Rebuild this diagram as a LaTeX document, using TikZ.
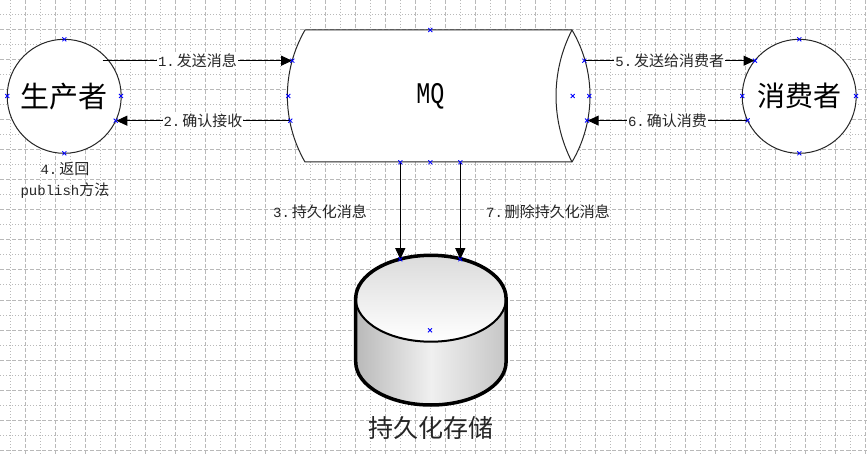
\documentclass[tikz,border=0pt]{standalone}
\usepackage{fontspec}
\usepackage{graphicx}
\setmainfont{Liberation Mono}
\newfontfamily\cjk{Noto Sans CJK SC}
\usetikzlibrary{arrows.meta}
\newcommand\zh[1]{{\cjk\fontsize{15}{20.7}\selectfont #1}}
\newcommand\nsp{\hspace{2pt}}
\begin{document}
\begin{tikzpicture}[x=1pt,y=-1pt,
 gmaj/.style={gray!55, line width=1pt, dash pattern=on 4pt off 2pt},
 gmin/.style={gray!55, line width=1pt, dash pattern=on 1pt off 2pt},
 outl/.style={draw=black!85, line width=1pt},
 conn/.style={draw=black, line width=1pt, -{Triangle[length=11pt,width=10pt]}},
 lbl/.style={fill=white, inner sep=1pt, text=black!85, font=\fontsize{14}{20.7}\selectfont},
 vlbl/.style={inner sep=1pt, text=black!85, font=\fontsize{14}{20.7}\selectfont, align=center},
 xm/.style={blue, line width=0.8pt},
 ell/.style={x radius=75.2pt, y radius=43.2pt}
]
\useasboundingbox (0,0) rectangle (867,454);
\fill[white] (0,0) rectangle (867,454);
% grid
\foreach \x in {10,40,...,850} \draw[gmin] (\x,0) -- (\x,454);
\foreach \y in {15,45,...,435} \draw[gmin] (0,\y) -- (867,\y);
\foreach \x in {25,55,...,865} \draw[gmaj] (\x,0) -- (\x,454);
\foreach \y in {0,30,...,450} \draw[gmaj] (0,\y) -- (867,\y);

% producer and consumer
\node[outl, fill=white, circle, minimum size=114pt, inner sep=0pt,
      font=\cjk\fontsize{29}{30}\selectfont] (prod) at (64.2,96.3) {生产者};
\node[outl, fill=white, circle, minimum size=114pt, inner sep=0pt,
      font=\cjk\fontsize{28}{30}\selectfont] (cons) at (799.2,96.3) {消费者};

% MQ horizontal cylinder
\draw[outl, fill=white] (305,30) -- (572,30)
   .. controls (596,70.8) and (596,121.2) .. (572,162) -- (305,162)
   .. controls (281.5,121.2) and (281.5,70.8) .. (305,30) -- cycle;
\draw[outl] (572,30) .. controls (550.7,71.3) and (550.7,120.7) .. (572,162);
\node (mq) at (430.3,96) {\fontsize{30}{30}\selectfont\scalebox{0.78}[1]{MQ}};

% storage cylinder
\path[left color=gray!55, right color=gray!45, middle color=gray!12]
   (355.7,298.5) -- (355.7,361.8) arc[start angle=180, end angle=360, ell]
   -- (506.1,298.5) -- cycle;
\path[top color=gray!28, bottom color=white] (430.9,298.5) ellipse[ell];
\draw[black, line width=2pt] (430.9,298.5) ellipse[ell];
\draw[black, line width=3.5pt] (355.7,298.5) -- (355.7,361.8)
   arc[start angle=180, end angle=360, ell] -- (506.1,298.5)
   arc[start angle=0, end angle=180, ell] -- cycle;
\node[text=black!85, font=\cjk\fontsize{25}{30}\selectfont] (store) at (430.5,428.3) {持久化存储};

% connection coordinates
\coordinate (a1s) at (102.7,60.7);
\coordinate (a1e) at (292.1,60.7);
\coordinate (a2s) at (289.6,120.7);
\coordinate (a5s) at (585.1,60.7);
\coordinate (a6e) at (587.7,120.5);
\coordinate (m3) at (400.3,162.3);
\coordinate (c3) at (400.3,259.2);
\coordinate (m7) at (460.3,162.3);
\coordinate (c7) at (460.3,259.2);

% connectors
\draw[conn] (a1s) -- node[lbl] (l1) {1.\nsp\zh{发送消息}} (a1e);
\draw[conn] (a2s) -- node[lbl] (l2) {2.\nsp\zh{确认接收}} (a2s -| prod.-25);
\draw[conn] (a5s) -- node[lbl] (l5) {5.\nsp\zh{发送给消费者}} (a5s -| cons.141);
\draw[conn] (cons.205) -- node[lbl] (l6) {6.\nsp\zh{确认消费}} (cons.205 -| a6e);
\draw[conn] (m3) -- (c3);
\draw[conn] (m7) -- (c7);
\node[vlbl] (l3) at (320,211.7) {3.\nsp\zh{持久化消息}};
\node[vlbl] (l7) at (548,211.7) {7.\nsp\zh{删除持久化消息}};
\node[vlbl] (l4) at (65,180.3) {4.\nsp\zh{返回}\\publish\zh{方法}};

% connection point marks
\foreach \x/\y in {64.3/39.3, 64.3/153.3, 7.3/96, 121/96, 115.7/120.7,
  430.3/30, 288.3/96, 292.3/60.7, 290.3/120.7, 400.3/162.3, 430.3/162.3, 460.3/162.3,
  572.7/96, 589.3/96, 584.3/60.7, 587/120.5,
  799.3/39.3, 799.3/153.3, 742.3/96, 856/96, 755/60.7, 747.7/120.3,
  400.3/259.3, 460.3/259.3, 430/330.3}
  \draw[xm] (\x-2,\y-2) -- (\x+2,\y+2) (\x-2,\y+2) -- (\x+2,\y-2);
\end{tikzpicture}
\end{document}
